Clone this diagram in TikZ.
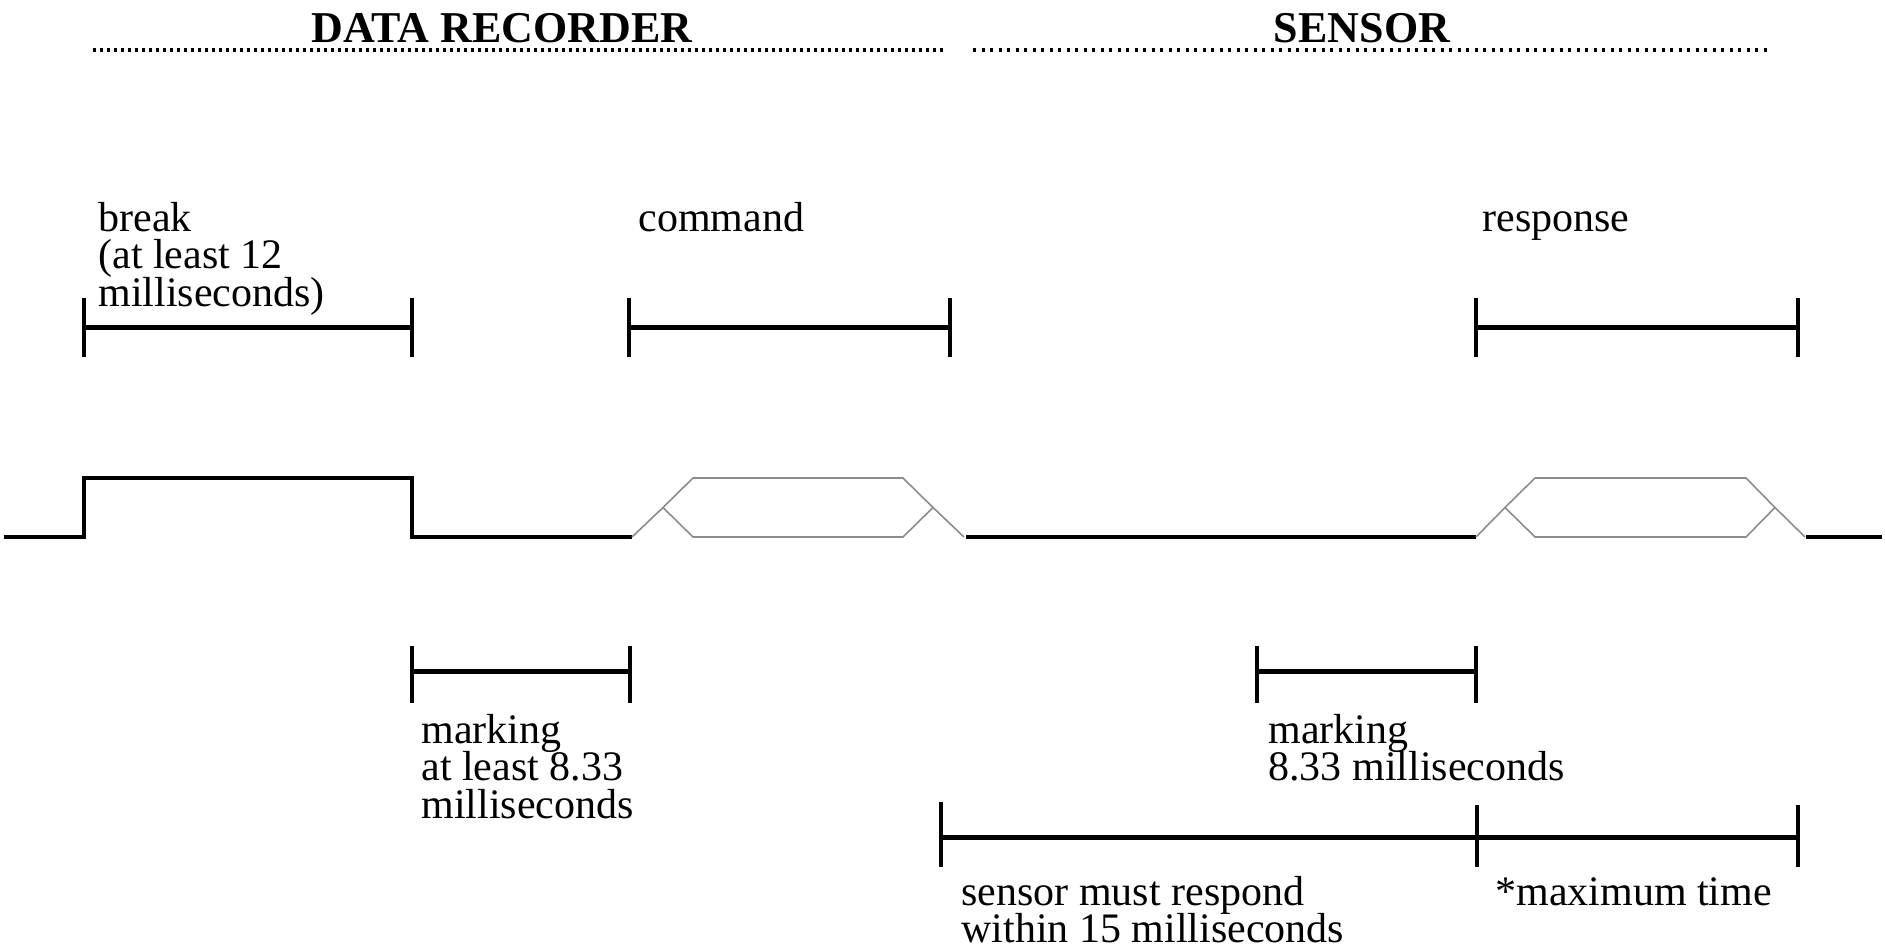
\documentclass[tikz,border=0pt]{standalone}
\usepackage{fontspec}
\setmainfont{Liberation Serif}
\lineskiplimit=-100pt
\begin{document}
\begin{tikzpicture}[x=0.5pt,y=-0.5pt,
  title/.style={anchor=base, inner sep=0pt, font=\fontsize{22}{26}\selectfont\bfseries},
  lbl/.style={anchor=base west, inner sep=0pt, font=\fontsize{21}{18.75}\selectfont},
  dotline/.style={line width=2pt, dash pattern=on 1.5pt off 2pt},
  wave/.style={line width=2.3pt, line join=miter},
  hexline/.style={line width=0.8pt, draw=black!45, line join=miter},
  spanline/.style={line width=2.5pt},
  tick/.style={line width=2pt}]
\useasboundingbox (0,0) rectangle (1885,949);

% titles
\node[title] (trec) at (502,42) {DATA RECORDER};
\node[title] (tsen) at (1362,42) {SENSOR};
\draw[dotline] (93,50) -- (947,50);
\draw[dotline, dash pattern=on 1.5pt off 2.75pt] (973,50) -- (1770,50);

% waveform
\draw[wave] (4,537) -- (84,537) -- (84,478) -- (412,478) -- (412,537) -- (632,537);
\draw[hexline] (632,537) -- (663,507.5);
\draw[hexline] (663,507.5) -- (693,478) -- (903,478) -- (933,507.5) -- (903,537) -- (693,537) -- cycle;
\draw[hexline] (933,507.5) -- (964,537);
\draw[wave] (966,537) -- (1476,537);
\draw[hexline] (1476,537) -- (1505,507.5);
\draw[hexline] (1505,507.5) -- (1535,478) -- (1746,478) -- (1775,507.5) -- (1746,537) -- (1535,537) -- cycle;
\draw[hexline] (1775,507.5) -- (1805,537);
\draw[wave] (1806,537) -- (1882,537);

% top brackets
\draw[spanline] (84,327) -- (412,327);
\draw[tick] (84,298) -- (84,357);
\draw[tick] (412,298) -- (412,357);
\draw[spanline] (629,327) -- (950,327);
\draw[tick] (629,298) -- (629,357);
\draw[tick] (950,298) -- (950,357);
\draw[spanline] (1476,327) -- (1798,327);
\draw[tick] (1476,298) -- (1476,357);
\draw[tick] (1798,298) -- (1798,357);

% marking brackets
\draw[spanline] (412,671) -- (630,671);
\draw[tick] (412,646) -- (412,703);
\draw[tick] (630,646) -- (630,703);
\draw[spanline] (1257,671) -- (1476,671);
\draw[tick] (1257,646) -- (1257,703);
\draw[tick] (1476,646) -- (1476,703);

% bottom bracket
\draw[spanline] (941,837) -- (1798,837);
\draw[tick] (941,802) -- (941,867);
\draw[tick] (1477,805) -- (1477,867);
\draw[tick] (1798,805) -- (1798,867);

% labels
\node[lbl] (lbreak) at (98,231) {\vtop{\hbox{break}\hbox{(at least 12}\hbox{milliseconds)}}};
\node[lbl] (lcmd) at (638,231) {command};
\node[lbl] (lresp) at (1482,231) {response};
\node[lbl] (lmark1) at (421,743) {\vtop{\hbox{marking}\hbox{at least 8.33}\hbox{milliseconds}}};
\node[lbl] (lmark2) at (1268,743) {\vtop{\hbox{marking}\hbox{8.33 milliseconds}}};
\node[lbl] (lresp15) at (961,905) {\vtop{\hbox{sensor must respond}\hbox{within 15 milliseconds}}};
\node[lbl] (lmax) at (1495,905) {*maximum time};
\end{tikzpicture}
\end{document}
